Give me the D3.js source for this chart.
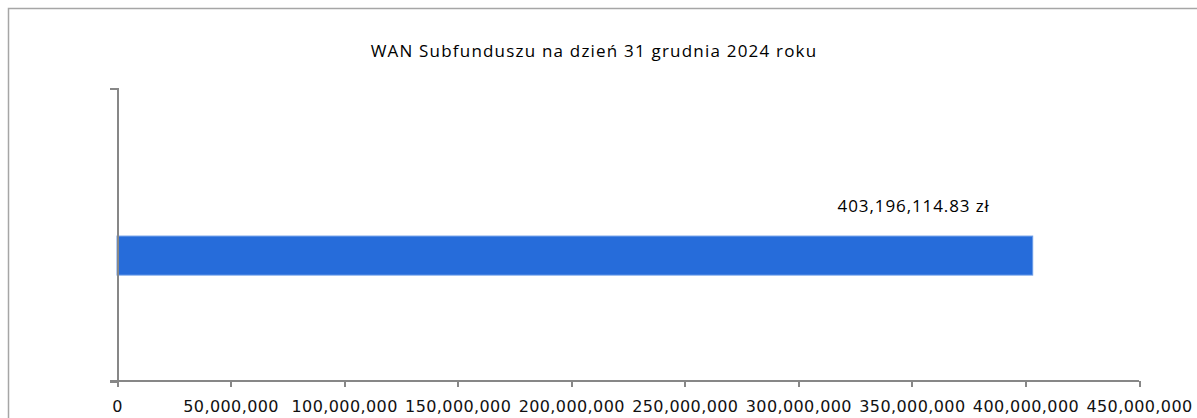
<!DOCTYPE html>
<html>
<head>
<meta charset="utf-8">
<script src="https://cdn.jsdelivr.net/npm/d3@7"></script>
<style>
  html, body { margin: 0; background: #fff; overflow: hidden; }
  svg { display: block; }
  .axis path, .axis line { stroke: #878787; stroke-width: 2; shape-rendering: crispEdges; }
  .axis text { font-family: "DejaVu Sans", sans-serif; font-size: 16px; letter-spacing: 0.4px; fill: #111; }
  .title, .label { font-family: "Open Sans", sans-serif; font-size: 17px; fill: #000; }
  .title { letter-spacing: 1.2px; }
  .label { letter-spacing: 0.9px; }
</style>
</head>
<body>
<div id="chart"></div>
<script>
var title = 'WAN Subfunduszu na dzień 31 grudnia 2024 roku';
var categories = ['WAN'];
var values = [403196114.83];
var xTicks = [0, 50000000, 100000000, 150000000, 200000000, 250000000, 300000000, 350000000, 400000000, 450000000];

var size = { w: 1197, h: 418 };
var plot = { l: 117, r: 1139, t: 88, b: 381 };

var svg = d3.select('#chart').append('svg')
  .attr('width', size.w)
  .attr('height', size.h);

// outer frame, clipped on the right and bottom
svg.append('rect')
  .attr('x', 8.5).attr('y', 8.5)
  .attr('width', 1300).attr('height', 500)
  .attr('fill', 'none')
  .attr('stroke', '#a6a6a6')
  .attr('stroke-width', 1.5);

var x = d3.scaleLinear()
  .domain([0, 450000000])
  .range([plot.l, plot.r]);

var y = d3.scaleBand()
  .domain(categories)
  .range([plot.t, plot.b])
  .padding(0.765)
  .align(0.583);

// bar
svg.append('g').selectAll('rect').data(values).enter().append('rect')
  .attr('x', x(0))
  .attr('y', function(d, i) { return y(categories[i]); })
  .attr('width', function(d) { return x(d) - x(0); })
  .attr('height', y.bandwidth())
  .attr('fill', '#266cda')
  .attr('stroke', '#6a9be8')
  .attr('stroke-width', 1);

// value label
svg.append('g').selectAll('text').data(values).enter().append('text')
  .attr('class', 'label')
  .attr('x', function(d) { return x(d) - 119; })
  .attr('y', function(d, i) { return y(categories[i]) - 24; })
  .attr('text-anchor', 'middle')
  .text(function(d) { return d3.format(',.2f')(d) + ' zł'; });

// x axis
var xAxis = svg.append('g')
  .attr('class', 'axis')
  .attr('transform', 'translate(0,' + plot.b + ')')
  .call(d3.axisBottom(x).tickValues(xTicks).tickFormat(d3.format(',')).tickSize(6).tickSizeOuter(0).tickPadding(14));
xAxis.select('.domain').attr('d', 'M' + (plot.l - 7) + ',0H' + plot.r);

// y axis
svg.append('g')
  .attr('class', 'axis')
  .attr('transform', 'translate(' + plot.l + ',0)')
  .call(d3.axisLeft(y).tickValues([]).tickSizeOuter(7));

// title
svg.append('text')
  .attr('class', 'title')
  .attr('x', 594)
  .attr('y', 57)
  .attr('text-anchor', 'middle')
  .text(title);
</script>
</body>
</html>
